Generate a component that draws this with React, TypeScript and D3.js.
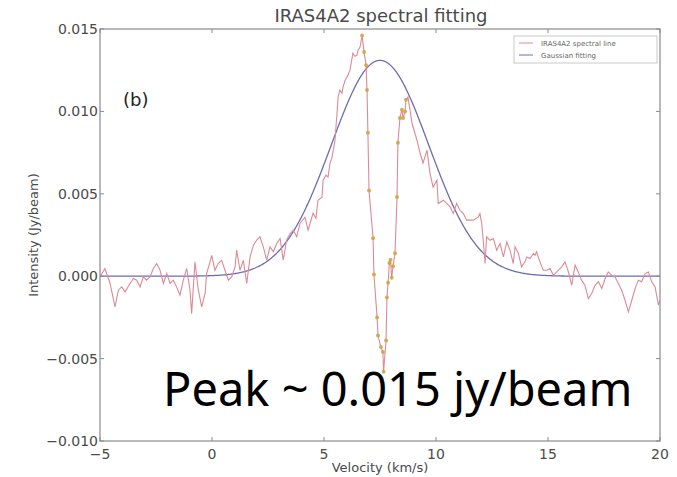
import React from 'react';
import * as d3 from 'd3';

const W = 677;
const H = 477;
const PX0 = 100, PX1 = 660, PY0 = 29, PY1 = 441;

const xTicks = [-5, 0, 5, 10, 15, 20];
const xTickLabels = ['\u22125', '0', '5', '10', '15', '20'];
const yTicks = [0.015, 0.01, 0.005, 0, -0.005, -0.01];
const yTickLabels = ['0.015', '0.010', '0.005', '0.000', '\u22120.005', '\u22120.010'];

// Gaussian fit parameters (amplitude Jy/beam, centre km/s, sigma km/s)
const gaussAmp = 0.0131;
const gaussCenter = 7.5;
const gaussSigma = 2.18;

// spectrum, left wing: [velocity km/s, intensity Jy/beam]
const specLeft: [number, number][] = [
  [-5.0, -0.00004], [-4.78, 0.00047], [-4.55, -0.00044], [-4.33, -0.00186], [-4.18, -0.00085],
  [-4.03, -0.00065], [-3.88, -0.00095], [-3.66, -0.00044], [-3.51, -0.00014], [-3.36, -0.00024],
  [-3.21, -0.00065], [-3.07, -0.00004], [-2.92, -0.00024], [-2.77, -0.00004], [-2.62, 0.00047],
  [-2.47, 0.00077], [-2.32, 0.00036], [-2.17, -0.00044], [-2.02, 0.00016], [-1.87, -0.00044],
  [-1.73, -0.00024], [-1.58, -0.00065], [-1.43, -0.00115], [-1.28, -0.00024], [-1.13, 0.00047],
  [-0.98, -0.00085], [-0.91, -0.00227], [-0.76, 0.00087], [-0.61, -0.00085], [-0.46, -0.00186],
  [-0.31, -0.00105], [-0.24, 0.00016], [-0.09, 0.00087], [-0.01, 0.00127], [0.13, 0.00036],
  [0.28, 0.00077], [0.43, 0.00097], [0.58, 0.00036], [0.73, -0.00024], [0.88, -0.00004],
  [1.03, 0.00057], [1.1, 0.00158], [1.25, 0.00036], [1.4, 0.00097], [1.55, -0.00044],
  [1.7, 0.00117], [1.85, 0.00188], [1.99, 0.00218], [2.14, 0.00239], [2.29, 0.00178],
  [2.44, 0.00097], [2.59, 0.00178], [2.74, 0.00148], [2.89, 0.00198], [3.04, 0.00229],
  [3.18, 0.00097], [3.33, 0.00218], [3.48, 0.00259], [3.63, 0.00279], [3.78, 0.00239],
  [3.93, 0.0032], [4.15, 0.00358], [4.29, 0.00279], [4.38, 0.0032], [4.51, 0.00382],
  [4.64, 0.00352], [4.73, 0.00461], [4.91, 0.00479], [4.96, 0.00583], [5.09, 0.00613],
  [5.18, 0.00601], [5.27, 0.00686], [5.36, 0.00722], [5.49, 0.00825], [5.58, 0.00989],
  [5.63, 0.01086], [5.71, 0.01129], [5.8, 0.0111], [5.85, 0.01147], [5.94, 0.01189],
  [6.07, 0.0122], [6.16, 0.0125], [6.29, 0.01353], [6.38, 0.01335], [6.47, 0.01341],
  [6.52, 0.01371], [6.61, 0.0139],
];

// absorption dip channels (marked)
const dip: [number, number][] = [
  [6.7, 0.0146], [6.79, 0.0136], [6.88, 0.0128], [6.92, 0.0113], [6.96, 0.0087],
  [7.01, 0.0052], [7.19, 0.0023], [7.23, 0.0001], [7.37, -0.0025], [7.41, -0.0036],
  [7.54, -0.0043], [7.63, -0.0046], [7.66, -0.0058], [7.77, -0.0039], [7.81, -0.0013],
  [7.86, -0.0004], [7.92, 0.0008], [7.97, 0.001], [8.02, -0.0001], [8.08, 0.0006],
  [8.17, 0.0014], [8.26, 0.0048], [8.3, 0.0081], [8.39, 0.0096], [8.48, 0.0101],
  [8.53, 0.0096], [8.62, 0.01], [8.66, 0.0107],
];

// spectrum, right wing
const specRight: [number, number][] = [
  [8.75, 0.01086], [8.93, 0.00928], [9.15, 0.00825], [9.29, 0.00746], [9.42, 0.00686],
  [9.6, 0.00765], [9.73, 0.00625], [9.87, 0.0054], [10.04, 0.00583], [10.1, 0.00441],
  [10.33, 0.00461], [10.63, 0.00421], [10.77, 0.0038], [10.92, 0.00441], [11.07, 0.004],
  [11.22, 0.0038], [11.37, 0.0034], [11.67, 0.0034], [11.89, 0.0036], [11.96, 0.0038],
  [12.04, 0.0032], [12.11, 0.00218], [12.19, 0.00077], [12.26, 0.00239], [12.41, 0.00218],
  [12.56, 0.00229], [12.71, 0.00158], [12.86, 0.00198], [13.01, 0.00117], [13.16, 0.00208],
  [13.3, 0.00158], [13.45, 0.00077], [13.53, 0.00178], [13.68, 0.00138], [13.82, 0.00057],
  [13.97, 0.00087], [14.05, 0.00117], [14.2, 0.00107], [14.35, 0.00138], [14.42, 0.00127],
  [14.49, 0.00148], [14.64, 0.00087], [14.79, 0.00036], [14.94, 0.00036], [15.09, 0.00047],
  [15.24, 0.00006], [15.39, 0.00026], [15.61, 0.00057], [15.76, 0.00087], [15.91, 0.00026],
  [16.06, -0.00055], [16.21, 0.00067], [16.35, 0.00026], [16.5, -0.00024], [16.65, -0.00055],
  [16.8, -0.00136], [16.95, -0.00105], [17.1, -0.00055], [17.25, -0.00034], [17.4, -0.00075],
  [17.55, -0.00014], [17.69, 0.00026], [17.84, 0.00006], [17.99, -0.00004], [18.14, -0.00044],
  [18.29, -0.00085], [18.44, -0.00146], [18.59, -0.00216], [18.74, -0.00146], [18.89, -0.00075],
  [19.03, -0.00024], [19.18, -0.00034], [19.33, 0.00016], [19.48, 0.00026], [19.63, -0.00034],
  [19.78, -0.00065], [19.93, -0.00176], [20.0, -0.00146],
];

const title = 'IRAS4A2 spectral fitting';
const xLabel = 'Velocity (km/s)';
const yLabel = 'Intensity (Jy/beam)';
const legendLabels = ['IRAS4A2 spectral line', 'Gaussian fitting'];
const panelLabel = '(b)';
const annotation = 'Peak ~ 0.015 jy/beam';

const RED = '#dc8a95';
const BLUE = '#6c6cb4';
const DOT = '#cfa23e';
const AXIS = '#8a8a8a';
const TXT = '#4a4a4a';

export default function App() {
  const x = d3.scaleLinear().domain([-5, 20]).range([PX0, PX1]);
  const y = d3.scaleLinear().domain([-0.01, 0.015]).range([PY1, PY0]);

  const spectrum = [...specLeft, ...dip, ...specRight];
  const line = d3.line<[number, number]>().x(d => x(d[0])).y(d => y(d[1]));

  const gaussPts: [number, number][] = d3.range(-5, 20.001, 0.05).map(v => [
    v,
    gaussAmp * Math.exp(-((v - gaussCenter) ** 2) / (2 * gaussSigma ** 2)),
  ]);
  const gline = d3.line<[number, number]>().x(d => x(d[0])).y(d => y(d[1]));

  const font = 'DejaVu Sans, sans-serif';

  return (
    <svg width={W} height={H} style={{ position: 'absolute', left: 0, top: 0, background: '#fff' }}>
      <rect x={0} y={0} width={W} height={H} fill="#fff" />
      <defs>
        <clipPath id="plotclip">
          <rect x={PX0} y={PY0} width={PX1 - PX0} height={PY1 - PY0} />
        </clipPath>
      </defs>

      {/* title */}
      <text x={(PX0 + PX1) / 2 + 1} y={22} textAnchor="middle" fontFamily={font} fontSize={18} fill={TXT}>
        {title}
      </text>

      {/* data */}
      <g clipPath="url(#plotclip)">
        <path d={gline(gaussPts) || ''} fill="none" stroke={BLUE} strokeWidth={1.3} />
        <path d={line(spectrum) || ''} fill="none" stroke={RED} strokeWidth={1.1} />
        {dip.map((d, i) => (
          <circle key={i} cx={x(d[0])} cy={y(d[1])} r={2} fill={DOT} opacity={0.85} />
        ))}
      </g>

      {/* frame */}
      <rect x={PX0} y={PY0} width={PX1 - PX0} height={PY1 - PY0} fill="none" stroke={AXIS} strokeWidth={1.2} />

      {/* ticks */}
      {xTicks.map((t, i) => (
        <g key={'x' + i}>
          <line x1={x(t)} x2={x(t)} y1={PY1} y2={PY1 - 4} stroke={AXIS} />
          <line x1={x(t)} x2={x(t)} y1={PY0} y2={PY0 + 4} stroke={AXIS} />
          <text x={x(t)} y={459} textAnchor="middle" fontFamily={font} fontSize={14} fill={TXT}>
            {xTickLabels[i]}
          </text>
        </g>
      ))}
      {yTicks.map((t, i) => (
        <g key={'y' + i}>
          <line x1={PX0} x2={PX0 + 4} y1={y(t)} y2={y(t)} stroke={AXIS} />
          <line x1={PX1} x2={PX1 - 4} y1={y(t)} y2={y(t)} stroke={AXIS} />
          <text x={PX0 - 2} y={y(t)} dy="0.36em" textAnchor="end" fontFamily={font} fontSize={14} fill={TXT}>
            {yTickLabels[i]}
          </text>
        </g>
      ))}

      {/* axis labels */}
      <text x={(PX0 + PX1) / 2} y={472} textAnchor="middle" fontFamily={font} fontSize={13} fill={TXT}>
        {xLabel}
      </text>
      <text
        transform={`translate(38,${(PY0 + PY1) / 2}) rotate(-90)`}
        textAnchor="middle"
        fontFamily={font}
        fontSize={13}
        fill={TXT}
      >
        {yLabel}
      </text>

      {/* legend */}
      <g>
        <rect x={514} y={36} width={143} height={27} fill="#fff" stroke="#bbb" strokeWidth={0.8} />
        <line x1={519} x2={533} y1={43} y2={43} stroke={RED} strokeWidth={1} />
        <text x={541} y={45.5} fontFamily={font} fontSize={7} fill="#666">{legendLabels[0]}</text>
        <line x1={519} x2={533} y1={55} y2={55} stroke={BLUE} strokeWidth={1} />
        <text x={541} y={57.5} fontFamily={font} fontSize={7} fill="#666">{legendLabels[1]}</text>
      </g>

      {/* panel label */}
      <text x={123} y={106} fontFamily={font} fontSize={18} fill="#222">{panelLabel}</text>

      {/* annotation */}
      <text x={163} y={406} fontFamily="Noto Sans, Open Sans, sans-serif" fontSize={47} fill="#000">
        {annotation}
      </text>
    </svg>
  );
}
